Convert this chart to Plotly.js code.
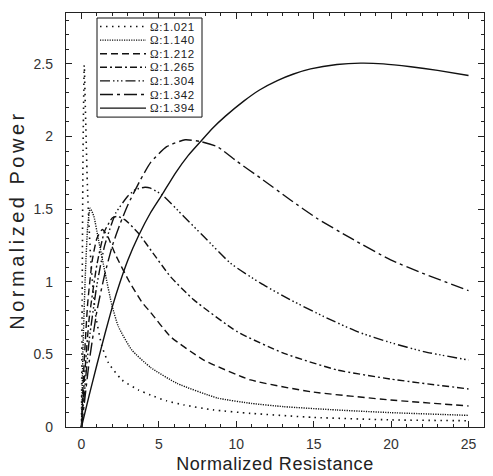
<!DOCTYPE html>
<html>
<head>
<meta charset="utf-8">
<script src="https://cdn.plot.ly/plotly-3.0.1.min.js"></script>
<style>
html,body{margin:0;padding:0;background:#fff;}
#chart{width:493px;height:476px;}
.ytitle{letter-spacing:3.5px;}
.xtitle{letter-spacing:0.6px;}
.annotation-text{letter-spacing:0.6px;}
</style>
</head>
<body>
<div id="chart"></div>
<script>
// ---- data ----
var omegaLabels = ["Ω:1.021", "Ω:1.140", "Ω:1.212", "Ω:1.265", "Ω:1.304", "Ω:1.342", "Ω:1.394"];

var x_1021 = [0, 0.05, 0.1, 0.18, 0.25, 0.4, 0.6, 0.9, 1.31, 1.75, 2.61, 3.68, 4.46, 5.5, 6.61, 8.5, 10.92, 15, 20, 25];
var y_1021 = [0, 1.0, 1.9, 2.49, 2.2, 1.6, 1.15, 0.78, 0.56, 0.44, 0.324, 0.255, 0.22, 0.18, 0.152, 0.118, 0.094, 0.066, 0.049, 0.043];

var x_1140 = [0, 0.1, 0.25, 0.4, 0.56, 0.8, 1.1, 1.53, 1.96, 2.39, 3.25, 4.46, 6.18, 8.77, 11, 13.08, 16.5, 19.97, 25];
var y_1140 = [0, 0.55, 1.05, 1.38, 1.506, 1.45, 1.288, 1.058, 0.84, 0.69, 0.53, 0.41, 0.30, 0.20, 0.162, 0.14, 0.117, 0.099, 0.080];

var x_1212 = [0, 0.15, 0.4, 0.7, 1.0, 1.35, 1.7, 2.18, 3.04, 3.9, 4.46, 5.75, 7.9, 10.92, 14.8, 19.97, 25];
var y_1212 = [0, 0.4, 0.85, 1.15, 1.3, 1.36, 1.31, 1.19, 1.01, 0.86, 0.79, 0.622, 0.461, 0.324, 0.243, 0.186, 0.145];

var x_1265 = [0, 0.2, 0.5, 1.0, 1.5, 2.0, 2.3, 2.82, 3.68, 4.6, 5.75, 7.26, 10.06, 13.08, 16.5, 19.97, 25];
var y_1265 = [0, 0.35, 0.75, 1.12, 1.35, 1.44, 1.45, 1.426, 1.334, 1.2, 1.035, 0.875, 0.656, 0.507, 0.393, 0.33, 0.262];

var x_1304 = [0, 0.2, 0.5, 1.0, 1.5, 2.2, 3.0, 3.5, 4.1, 4.46, 5.21, 6.61, 7.9, 9.63, 11.57, 13.5, 15.66, 17.82, 19.97, 22.1, 25];
var y_1304 = [0, 0.25, 0.6, 0.98, 1.25, 1.47, 1.59, 1.635, 1.65, 1.644, 1.598, 1.449, 1.311, 1.127, 0.99, 0.875, 0.76, 0.656, 0.581, 0.519, 0.461];

var x_1342 = [0, 0.2, 0.5, 1.0, 1.5, 2.0, 2.5, 3.0, 3.8, 4.46, 5.5, 6.7, 7.7, 8.77, 10.06, 11.57, 13.5, 15.2, 17.4, 19.97, 22, 25];
var y_1342 = [0, 0.18, 0.45, 0.8, 1.05, 1.25, 1.40, 1.53, 1.70, 1.82, 1.93, 1.977, 1.965, 1.93, 1.827, 1.713, 1.563, 1.437, 1.30, 1.15, 1.06, 0.939];

var x_1394 = [0, 0.5, 1.0, 1.5, 2.0, 2.5, 3.0, 3.7, 4.46, 5.21, 6.08, 6.9, 7.69, 8.5, 9.3, 10.5, 11.5, 12.65, 13.7, 14.8, 16.5, 18.03, 19.5, 21.27, 23, 25];
var y_1394 = [0, 0.22, 0.43, 0.635, 0.83, 1.0, 1.15, 1.32, 1.475, 1.60, 1.75, 1.87, 1.965, 2.06, 2.14, 2.245, 2.32, 2.385, 2.43, 2.465, 2.495, 2.505, 2.50, 2.48, 2.455, 2.42];

var xTickVals = [0, 5, 10, 15, 20, 25];
var xTickText = ["0", "5", "10", "15", "20", "25"];
var yTickVals = [0, 0.5, 1, 1.5, 2, 2.5];
var yTickText = ["0", "0.5", "1", "1.5", "2", "2.5"];

// ---- styles ----
var seriesX = [x_1021, x_1140, x_1212, x_1265, x_1304, x_1342, x_1394];
var seriesY = [y_1021, y_1140, y_1212, y_1265, y_1304, y_1342, y_1394];
var dashes = [
  "1.5px,4.5px",
  "1.2px,1.2px",
  "7px,4px",
  "7px,3px,2px,3px",
  "10px,3px,1.5px,2.5px,1.5px,2.5px,1.5px,3px",
  "13px,4px,3px,4px",
  "solid"
];
var widths = [1.6, 1.4, 1.4, 1.4, 1.4, 1.4, 1.4];

var traces = [];
for (var i = 0; i < seriesX.length; i++) {
  traces.push({
    x: seriesX[i], y: seriesY[i], name: omegaLabels[i],
    type: "scatter", mode: "lines",
    line: {color: "#111", width: widths[i], dash: dashes[i], shape: "spline", smoothing: 0.5},
    hoverinfo: "skip"
  });
}

// ---- manual legend (box, samples, labels) in paper coordinates ----
var plotL = 66, plotR = 484, plotT = 13, plotB = 427;
var pw = plotR - plotL, ph = plotB - plotT;
function px2paperX(p) { return (p - plotL) / pw; }
function py2paperY(p) { return (plotB - p) / ph; }

var rowTop = 26.5, rowGap = 13.6;
var shapes = [{
  type: "rect", xref: "paper", yref: "paper",
  x0: px2paperX(97), x1: px2paperX(202), y0: py2paperY(rowTop + rowGap * 6 + 9), y1: py2paperY(18),
  line: {color: "#111", width: 1}, fillcolor: "white", layer: "above"
}];
var annotations = [];
for (var j = 0; j < omegaLabels.length; j++) {
  var rowY = rowTop + rowGap * j;
  shapes.push({
    type: "line", xref: "paper", yref: "paper",
    x0: px2paperX(100), x1: px2paperX(146), y0: py2paperY(rowY), y1: py2paperY(rowY),
    line: {color: "#111", width: widths[j], dash: dashes[j]}, layer: "above"
  });
  var lab = omegaLabels[j];
  annotations.push({
    xref: "paper", yref: "paper", x: px2paperX(149), y: py2paperY(rowY),
    xanchor: "left", yanchor: "middle", showarrow: false, borderpad: 0,
    text: '<span style="font-family:Liberation Serif, Times New Roman, serif">' +
          lab.charAt(0) + '</span>' + lab.slice(1),
    font: {size: 11.5, color: "#222"}
  });
}

var axisCommon = {
  ticks: "inside", ticklen: 6, tickwidth: 1, tickcolor: "#222",
  showline: true, linecolor: "#222", linewidth: 1.2, mirror: "allticks",
  showgrid: false, zeroline: false,
  tickfont: {size: 14, color: "#333"}
};

var layout = {
  width: 493, height: 476,
  margin: {l: plotL, r: 493 - plotR, t: plotT, b: 476 - plotB},
  paper_bgcolor: "white", plot_bgcolor: "white",
  showlegend: false,
  font: {family: "Liberation Sans, Arial, Helvetica, sans-serif", color: "#222"},
  xaxis: Object.assign({}, axisCommon, {
    range: [-1, 26], tickmode: "array", tickvals: xTickVals, ticktext: xTickText,
    minor: {tickmode: "linear", tick0: 0, dtick: 1, ticks: "inside", ticklen: 3, tickcolor: "#222", showgrid: false},
    ticklabelstandoff: 4,
    title: {text: "Normalized Resistance", font: {size: 18, color: "#222"}, standoff: 6}
  }),
  yaxis: Object.assign({}, axisCommon, {
    range: [0, 2.85], tickmode: "array", tickvals: yTickVals, ticktext: yTickText,
    minor: {tickmode: "linear", tick0: 0, dtick: 0.1, ticks: "inside", ticklen: 3, tickcolor: "#222", showgrid: false},
    ticklabelstandoff: 9,
    title: {text: "Normalized Power", font: {size: 20, color: "#222"}, standoff: 3}
  }),
  shapes: shapes,
  annotations: annotations
};

Plotly.newPlot("chart", traces, layout, {displayModeBar: false, staticPlot: true});
</script>
</body>
</html>
